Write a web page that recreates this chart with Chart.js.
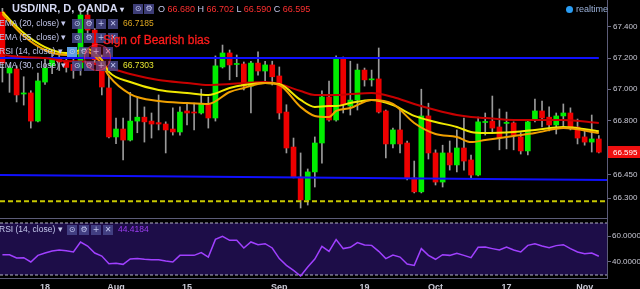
<!DOCTYPE html>
<html>
<head>
<meta charset="utf-8">
<script src="https://cdn.jsdelivr.net/npm/chart.js@4.4.1/dist/chart.umd.min.js"></script>
<style>
  body { margin:0; background:#000; width:640px; height:289px; overflow:hidden; position:relative;
         font-family:"Liberation Sans", Arial, sans-serif; }
  canvas { position:absolute; left:0; }
  #main { top:0; }
  #rsi { top:219px; }
  .t { position:absolute; white-space:nowrap; font-size:8.5px; color:#c4c8ec; line-height:11px; }
  .b { position:absolute; width:10px; height:10px; background:rgba(72,72,140,0.85); color:#c0c4ee;
       font-size:8px; line-height:10px; text-align:center; font-family:"DejaVu Sans", sans-serif; }
  .r { color:#ff3030; }
</style>
</head>
<body>
<canvas id="main" width="640" height="219"></canvas>
<canvas id="rsi" width="640" height="70"></canvas>
<div style="position:absolute;left:0;top:218px;width:608px;height:1px;background:#5c5c78"></div>

<!-- legend -->
<div class="t" style="left:12px;top:2px;font-size:11px;font-weight:bold;color:#d4d8f2;line-height:13px">USD/INR, D, OANDA <span style="font-size:8px">▾</span></div>
<div class="b" style="left:133px;top:4px">⊙</div>
<div class="b" style="left:144px;top:4px">⚙</div>
<div class="t" style="left:158px;top:4px;font-size:9px">O <span class="r">66.680</span> H <span class="r">66.702</span> L <span class="r">66.590</span> C <span class="r">66.595</span></div>

<div class="t" style="left:-1px;top:18px">EMA (20, close) ▾</div>
<div class="b" style="left:72px;top:19px">⊙</div><div class="b" style="left:84px;top:19px">⚙</div><div class="b" style="left:96px;top:19px">+</div><div class="b" style="left:108px;top:19px">✕</div>
<div class="t" style="left:123px;top:18px;color:#e0a820">66.7185</div>

<div class="t" style="left:-1px;top:32px">EMA (55, close) ▾</div>
<div class="b" style="left:72px;top:33px">⊙</div><div class="b" style="left:84px;top:33px">⚙</div><div class="b" style="left:96px;top:33px">+</div><div class="b" style="left:108px;top:33px">✕</div>

<div class="t" style="left:-1px;top:46px">RSI (14, close) ▾</div>
<div class="b" style="left:67px;top:47px;background:#5c9ee0">⊙</div><div class="b" style="left:79px;top:47px">⚙</div><div class="b" style="left:91px;top:47px">+</div><div class="b" style="left:103px;top:47px">✕</div>

<div class="t" style="left:-1px;top:60px">EMA (30, close) ▾</div>
<div class="b" style="left:72px;top:61px">⊙</div><div class="b" style="left:84px;top:61px">⚙</div><div class="b" style="left:96px;top:61px">+</div><div class="b" style="left:108px;top:61px">✕</div>
<div class="t" style="left:123px;top:60px;color:#e8e830">66.7303</div>

<div style="position:absolute;left:84px;top:44px;width:25px;height:25px;border-radius:50%;background:rgba(255,30,60,0.22);border:1px solid rgba(255,60,90,0.55)"></div>
<div class="t" style="left:103px;top:33px;font-size:12px;line-height:14px;color:#ff1c1c;-webkit-text-stroke:0.3px #ff1c1c">Sign of Bearish bias</div>

<div style="position:absolute;left:566px;top:6px;width:7px;height:7px;border-radius:50%;background:#2a9df4"></div>
<div class="t" style="left:576px;top:4px;font-size:9px;color:#9ab0d8">realtime</div>

<div class="t" style="left:-1px;top:224px">RSI (14, close) ▾</div>
<div class="b" style="left:67px;top:225px">⊙</div><div class="b" style="left:79px;top:225px">⚙</div><div class="b" style="left:91px;top:225px">+</div><div class="b" style="left:103px;top:225px">✕</div>
<div class="t" style="left:118px;top:224px;color:#9b3ef0">44.4184</div>

<script>
// daily candles, 8 Jul - 3 Nov
var open = [67.496,67.104,67.13,66.969,66.976,66.795,67.046,67.15,67.2,67.18,
  67.16,67.136,67.477,67.38,67.15,67.008,66.693,66.744,66.673,66.795,
  66.82,66.795,66.785,66.776,66.744,66.725,66.86,66.853,66.847,66.9,
  66.815,67.143,67.233,67.159,67.162,67.02,67.168,67.117,67.156,67.085,
  66.853,66.628,66.435,66.288,66.468,66.654,66.95,66.802,67.2,66.892,
  66.93,67.123,67.06,67.066,66.86,66.648,66.738,66.654,66.43,66.34,
  66.828,66.59,66.403,66.59,66.513,66.622,66.545,66.448,66.786,66.795,
  66.757,66.78,66.783,66.693,66.603,66.808,66.86,66.82,66.77,66.828,
  66.847,66.757,66.693,66.66,66.68];
var high = [67.52,67.15,67.15,67.08,66.99,67.104,67.2,67.25,67.23,67.2,
  67.2,67.52,67.51,67.39,67.22,67.09,66.815,66.815,66.98,66.95,
  66.886,66.847,66.963,66.79,66.88,66.886,66.91,66.91,67.0,66.95,
  67.214,67.284,67.252,67.22,67.175,67.18,67.24,67.18,67.18,67.143,
  66.9,66.686,66.59,66.487,66.693,66.99,67.053,67.214,67.207,67.18,
  67.162,67.136,67.123,67.265,66.866,66.75,66.866,66.667,66.538,67.0,
  66.91,66.61,66.64,66.667,66.738,66.815,66.577,66.82,66.847,66.956,
  66.873,66.853,66.79,66.72,66.795,66.937,66.924,66.886,66.847,66.905,
  66.88,66.808,66.744,66.834,66.702];
var low = [67.046,66.98,66.918,66.898,66.75,66.79,67.03,67.10,67.12,67.11,
  67.07,67.09,67.33,67.16,66.963,66.686,66.65,66.545,66.667,66.72,
  66.66,66.686,66.738,66.59,66.705,66.705,66.77,66.738,66.84,66.75,
  66.795,67.136,67.06,67.08,66.995,66.847,67.09,67.04,67.027,66.808,
  66.59,66.43,66.236,66.255,66.371,66.525,66.795,66.795,66.847,66.834,
  66.866,67.02,67.02,66.847,66.558,66.622,66.59,66.416,66.333,66.333,
  66.551,66.384,66.371,66.48,66.468,66.48,66.43,66.442,66.705,66.72,
  66.61,66.616,66.61,66.583,66.577,66.79,66.757,66.731,66.712,66.75,
  66.738,66.648,66.64,66.596,66.59];
var close = [67.168,67.136,66.963,66.976,66.795,67.053,67.136,67.2,67.175,67.14,
  67.12,67.477,67.38,67.19,67.014,66.693,66.744,66.673,66.795,66.82,
  66.79,66.776,66.776,66.738,66.725,66.853,66.847,66.847,66.905,66.815,
  67.15,67.233,67.156,67.162,67.02,67.168,67.117,67.156,67.08,66.847,
  66.622,66.435,66.288,66.468,66.654,66.95,66.802,67.2,66.9,66.93,
  67.123,67.06,67.066,66.853,66.648,66.738,66.648,66.43,66.34,66.828,
  66.59,66.403,66.59,66.513,66.622,66.538,66.448,66.79,66.79,66.75,
  66.686,66.783,66.705,66.603,66.79,66.86,66.815,66.77,66.828,66.847,
  66.757,66.686,66.66,66.68,66.595];

// moving averages at these candles
var emaIdx = [0,3,6,9,12,14,15,18,22,26,29,32,34,37,39,42,44,46,47,49,52,55,58,61,64,66,68,72,75,79,84];
var ema20 = [67.484,67.342,67.252,67.220,67.239,67.162,67.085,66.969,66.924,66.911,66.905,66.982,67.008,67.040,67.027,
  66.886,66.828,66.821,66.860,66.879,66.931,66.905,66.783,66.712,66.693,66.660,66.673,66.699,66.718,66.750,66.7185];
var ema30 = [67.496,67.361,67.271,67.233,67.259,67.188,67.111,67.046,66.995,66.976,66.963,67.008,67.027,67.040,67.033,
  66.931,66.886,66.892,66.892,66.911,66.931,66.898,66.828,66.789,66.757,66.725,66.718,66.725,66.738,66.757,66.7303];
var ema55 = [67.220,67.207,67.201,67.181,67.175,67.149,67.136,67.098,67.059,67.040,67.027,67.033,67.040,67.046,67.033,
  66.988,66.963,66.963,66.963,66.969,66.976,66.950,66.905,66.866,66.834,66.821,66.815,66.802,66.802,66.802,66.783];

// drawn levels
var resistance = 67.2;
var support = [66.448, 66.416];
var dashedLevel = 66.28;

var rsi = [45.6,45.6,43.1,43.3,40.0,45.1,46.9,48.5,49.2,48.7,
  47.7,55.4,52.3,46.9,44.6,38.7,39.0,38.2,42.3,42.6,
  42.1,41.8,41.8,40.8,40.0,45.1,45.1,45.1,47.2,43.8,
  57.4,59.7,56.7,56.7,50.8,55.4,53.3,54.1,50.8,42.6,
  37.4,33.6,29.2,36.2,42.3,52.1,48.2,57.2,50.3,51.3,
  54.9,53.1,52.8,48.2,42.6,45.4,43.8,38.5,37.4,50.3,
  45.1,42.1,45.6,45.1,46.7,45.1,43.3,51.3,51.5,50.3,
  49.2,51.5,49.2,47.7,52.8,54.1,52.3,51.0,52.6,53.3,
  50.3,47.7,46.4,46.9,44.4184];
var rsiBand = [70, 30];

var priceTicks = [67.4, 67.2, 67.0, 66.8, 66.45, 66.3];
var rsiTicks = [60, 40];
var dateIdx = [6, 16, 26, 39, 51, 61, 71, 82];
var dateText = ["18", "Aug", "15", "Sep", "19", "Oct", "17", "Nov"];

var xMin = -0.34, xMax = 85.15;
var idx = close.map(function(c, i) { return i; });

Chart.defaults.font.family = '"Liberation Sans", Arial, sans-serif';
Chart.defaults.color = "#c8c8d4";

function lineSet(xs, ys, color, extra) {
  var ds = {
    type: "line",
    data: xs.map(function(x, k) { return { x: x, y: ys[k] }; }),
    borderColor: color, borderWidth: 2, pointRadius: 0, fill: false
  };
  for (var k in extra) ds[k] = extra[k];
  return ds;
}

var lastPrice = {
  id: "lastPrice",
  afterDraw: function(chart) {
    var ctx = chart.ctx;
    var c = close[close.length - 1];
    var y = Math.round(chart.scales.y.getPixelForValue(c));
    var left = chart.chartArea.right + 1;
    ctx.save();
    ctx.fillStyle = "#f01010";
    ctx.fillRect(left, y - 6, chart.width - left, 12);
    ctx.fillStyle = "#ffffff";
    ctx.font = "8px 'Liberation Sans', Arial";
    ctx.textBaseline = "middle";
    ctx.fillText(c.toFixed(3), left + 5, y + 0.5);
    ctx.restore();
  }
};

new Chart(document.getElementById("main"), {
  type: "bar",
  data: {
    datasets: [
      lineSet(emaIdx, ema20, "#f0a000", { cubicInterpolationMode: "monotone", order: 0 }),
      lineSet(emaIdx, ema30, "#f0e800", { cubicInterpolationMode: "monotone", order: 0 }),
      lineSet(emaIdx, ema55, "#c80000", { cubicInterpolationMode: "monotone", order: 0 }),
      lineSet([xMin, 84], [resistance, resistance], "#1010ff", { order: 1 }),
      lineSet([xMin, xMax], support, "#1010ff", { order: 1 }),
      lineSet([xMin, xMax], [dashedLevel, dashedLevel], "#c8c800", { borderDash: [5, 3], order: 1 }),
      {
        data: idx.map(function(i) { return { x: i, y: [open[i], close[i]] }; }),
        backgroundColor: idx.map(function(i) { return close[i] >= open[i] ? "#00ee00" : "#ee0000"; }),
        barThickness: 5, minBarLength: 1, grouped: false, order: 2
      },
      {
        data: idx.map(function(i) { return { x: i, y: [low[i], high[i]] }; }),
        backgroundColor: "#9a9a9a",
        barThickness: 1, grouped: false, order: 3
      }
    ]
  },
  options: {
    responsive: false, animation: false, events: [],
    layout: { padding: 0 },
    plugins: { legend: { display: false }, tooltip: { enabled: false } },
    scales: {
      x: { type: "linear", display: false, offset: false, min: xMin, max: xMax },
      y: {
        position: "right", min: 66.1653, max: 67.5736,
        afterBuildTicks: function(s) { s.ticks = priceTicks.map(function(v) { return { value: v }; }); },
        afterFit: function(s) { s.width = 33; s.paddingTop = 0; s.paddingBottom = 0; },
        ticks: { font: { size: 8 }, padding: 2, callback: function(v) { return v.toFixed(3); } },
        grid: { drawOnChartArea: false, tickLength: 4, color: "#6a6a86" },
        border: { color: "#5c5c78" }
      }
    }
  },
  plugins: [lastPrice]
});

new Chart(document.getElementById("rsi"), {
  type: "line",
  data: {
    datasets: [
      lineSet(idx, rsi, "#a040ff", { borderWidth: 1.5, order: 0 }),
      lineSet([xMin, xMax], [rsiBand[0], rsiBand[0]], "#b4b4c4",
        { borderWidth: 1, borderDash: [3, 2], fill: { value: rsiBand[1] }, backgroundColor: "#1d0d48", order: 2 }),
      lineSet([xMin, xMax], [rsiBand[1], rsiBand[1]], "#b4b4c4", { borderWidth: 1, borderDash: [3, 2], order: 1 })
    ]
  },
  options: {
    responsive: false, animation: false, events: [],
    layout: { padding: 0 },
    plugins: { legend: { display: false }, tooltip: { enabled: false } },
    scales: {
      x: {
        type: "linear", offset: false, min: xMin, max: xMax,
        afterBuildTicks: function(s) { s.ticks = dateIdx.map(function(v) { return { value: v }; }); },
        afterFit: function(s) { s.height = 11; s.paddingLeft = 0; s.paddingRight = 0; },
        ticks: { font: { size: 9, weight: "bold" }, padding: 4, maxRotation: 0, autoSkip: false,
                 callback: function(v, i) { return dateText[i]; } },
        grid: { display: false, drawTicks: false, tickLength: 0 },
        border: { color: "#5c5c78" }
      },
      y: {
        position: "right", min: 27.69, max: 73.08,
        afterBuildTicks: function(s) { s.ticks = rsiTicks.map(function(v) { return { value: v }; }); },
        afterFit: function(s) { s.width = 33; s.paddingTop = 0; s.paddingBottom = 0; },
        ticks: { font: { size: 8 }, padding: 1, callback: function(v) { return v.toFixed(4); } },
        grid: { drawOnChartArea: false, tickLength: 4, color: "#6a6a86" },
        border: { color: "#5c5c78" }
      }
    }
  }
});
</script>
</body>
</html>
